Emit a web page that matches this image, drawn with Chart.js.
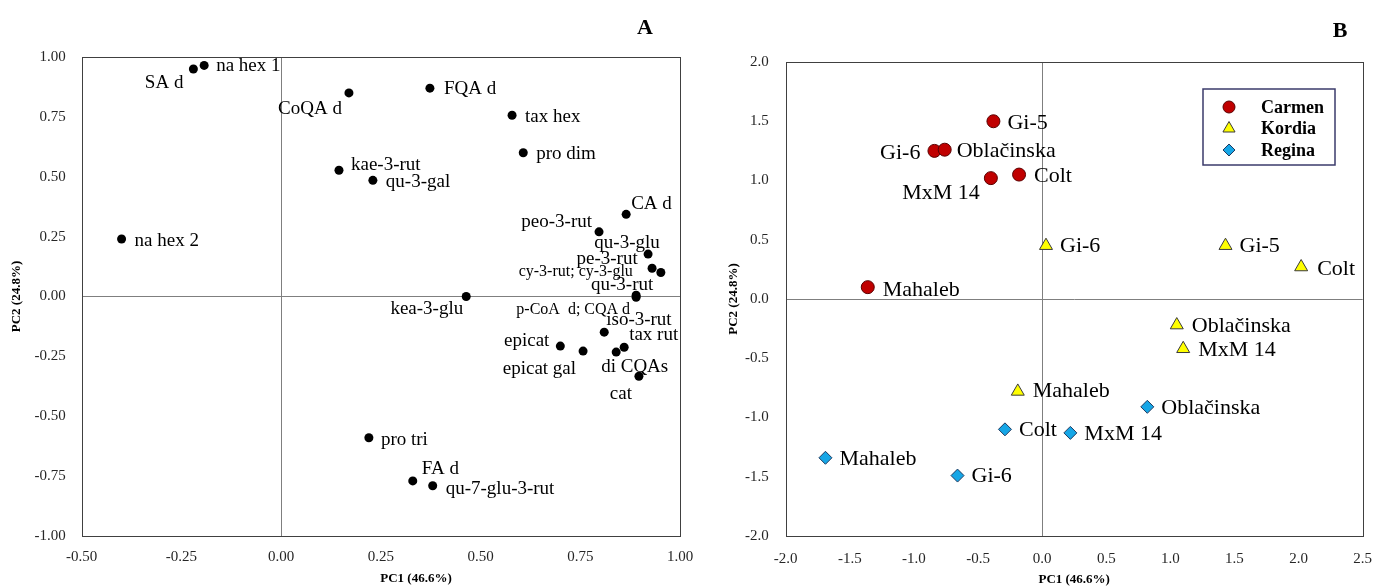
<!DOCTYPE html>
<html>
<head>
<meta charset="utf-8">
<script src="https://cdn.jsdelivr.net/npm/chart.js@4.4.1/dist/chart.umd.min.js"></script>
<style>
  body { margin: 0; background: #fff; width: 1375px; height: 587px; position: relative; overflow: hidden; }
  #chartA { position: absolute; left: 0; top: 0; }
  #chartB { position: absolute; left: 700px; top: 0; }
</style>
</head>
<body>
<canvas id="chartA" width="695" height="587"></canvas>
<canvas id="chartB" width="675" height="587"></canvas>
<script>
// ---- panel A: loadings ----
var compounds = ['SA d', 'na hex 1', 'CoQA d', 'FQA d', 'tax hex', 'pro dim', 'kae-3-rut', 'qu-3-gal',
  'na hex 2', 'CA d', 'peo-3-rut', 'qu-3-glu', 'pe-3-rut', 'cy-3-rut; cy-3-glu', 'qu-3-rut',
  'p-CoA  d; CQA d', 'kea-3-glu', 'iso-3-rut', 'tax rut', 'epicat', 'epicat gal', 'di CQAs', 'cat',
  'pro tri', 'FA d', 'qu-7-glu-3-rut'];
var loadPC1 = [-0.22, -0.193, 0.17, 0.373, 0.579, 0.607, 0.145, 0.23,
  -0.40, 0.865, 0.797, 0.92, 0.93, 0.952, 0.89,
  0.89, 0.464, 0.81, 0.86, 0.70, 0.757, 0.84, 0.897,
  0.22, 0.33, 0.38];
var loadPC2 = [0.95, 0.965, 0.85, 0.87, 0.757, 0.60, 0.527, 0.485,
  0.24, 0.343, 0.27, 0.177, 0.118, 0.10, 0.005,
  -0.003, 0.0, -0.149, -0.212, -0.207, -0.228, -0.232, -0.333,
  -0.59, -0.77, -0.79];
var ticksA_x = [-0.5, -0.25, 0, 0.25, 0.5, 0.75, 1.0];
var ticksA_y = [-1.0, -0.75, -0.5, -0.25, 0, 0.25, 0.5, 0.75, 1.0];

// where each name sits relative to its dot: [dx, dy, align, small]
var placeA = [[-10, 14, 'right'], [12, 1, 'left'], [-7, 16, 'right'], [14, 1, 'left'], [13, 2, 'left'],
  [13, 1, 'left'], [12, -5, 'left'], [13, 2, 'left'], [13, 2, 'left'], [5, -10, 'left'],
  [-7, -10, 'right'], [-21, -11, 'center'], [-45, -9, 'center'], [-28, -1, 'right', 1], [-14, -10, 'center'],
  [-6, 13, 'right', 1], [-3, 13, 'right'], [2, -12, 'left'], [5, -12, 'left'], [-11, -5, 'right'],
  [-7, 18, 'right'], [-15, 15, 'left'], [-7, 18, 'right'], [12, 2, 'left'], [9, -12, 'left'], [13, 3, 'left']];

// ---- panel B: scores ----
var carmenNames = ['Gi-5', 'Gi-6', 'Oblačinska', 'MxM 14', 'Colt', 'Mahaleb'];
var carmenPC1 = [-0.38, -0.84, -0.76, -0.40, -0.18, -1.36];
var carmenPC2 = [1.50, 1.25, 1.26, 1.02, 1.05, 0.10];
var kordiaNames = ['Gi-6', 'Gi-5', 'Colt', 'Oblačinska', 'MxM 14', 'Mahaleb'];
var kordiaPC1 = [0.03, 1.43, 2.02, 1.05, 1.10, -0.19];
var kordiaPC2 = [0.45, 0.45, 0.27, -0.22, -0.42, -0.78];
var reginaNames = ['Oblačinska', 'Colt', 'MxM 14', 'Mahaleb', 'Gi-6'];
var reginaPC1 = [0.82, -0.29, 0.22, -1.69, -0.66];
var reginaPC2 = [-0.91, -1.10, -1.13, -1.34, -1.49];
var ticksB_x = [-2.0, -1.5, -1.0, -0.5, 0, 0.5, 1.0, 1.5, 2.0, 2.5];
var ticksB_y = [-2.0, -1.5, -1.0, -0.5, 0, 0.5, 1.0, 1.5, 2.0];

var placeCarmen = [[14, 2, 'left'], [-14, 2, 'right'], [12, 2, 'left'], [-11, 15, 'right'], [15, 2, 'left'], [15, 3, 'left']];
var placeKordia = [[14, 1, 'left'], [14, 1, 'left'], [16, 2, 'left'], [15, 1, 'left'], [15, 1, 'left'], [15, 0, 'left']];
var placeRegina = [[14, 1, 'left'], [14, 1, 'left'], [14, 1, 'left'], [14, 1, 'left'], [14, 1, 'left']];

var SERIF = '"Liberation Serif", "Times New Roman", serif';

function pairs(xs, ys) {
  return xs.map(function (x, i) { return { x: x, y: ys[i] }; });
}

var pointNames = {
  id: 'pointNames',
  afterDatasetsDraw: function (chart, args, opts) {
    var ctx = chart.ctx;
    chart.data.datasets.forEach(function (ds, i) {
      var meta = chart.getDatasetMeta(i);
      meta.data.forEach(function (pt, j) {
        var p = ds.place[j];
        ctx.save();
        ctx.font = (p[3] ? opts.smallSize : opts.size) + 'px ' + SERIF;
        ctx.textAlign = p[2];
        ctx.textBaseline = 'middle';
        ctx.fillStyle = '#000';
        ctx.fillText(ds.names[j], pt.x + p[0], pt.y + p[1]);
        ctx.restore();
      });
    });
  }
};

var frame = {
  id: 'frame',
  beforeDatasetsDraw: function (chart, args, opts) {
    var a = chart.chartArea, ctx = chart.ctx;
    ctx.save();
    ctx.strokeStyle = opts.color;
    ctx.lineWidth = 1;
    ctx.strokeRect(Math.round(a.left) + 0.5, Math.round(a.top) + 0.5,
      Math.round(a.right - a.left), Math.round(a.bottom - a.top));
    ctx.restore();
  },
  afterDraw: function (chart, args, opts) {
    var ctx = chart.ctx;
    ctx.save();
    ctx.font = 'bold 22px ' + SERIF;
    ctx.fillStyle = '#000';
    ctx.textAlign = 'center';
    ctx.textBaseline = 'middle';
    ctx.fillText(opts.letter, opts.lx, opts.ly);
    if (opts.xTitle) {
      // this panel's x title sits off-centre in the original
      ctx.font = 'bold 13px ' + SERIF;
      ctx.fillText(opts.xTitle, opts.tx, opts.ty);
    }
    ctx.restore();
  }
};

var boxLegend = {
  id: 'boxLegend',
  afterDraw: function (chart, args, opts) {
    if (!opts.show) return;
    var ctx = chart.ctx;
    ctx.save();
    ctx.strokeStyle = '#3b3b6b';
    ctx.lineWidth = 1.5;
    ctx.strokeRect(opts.x, opts.y, opts.w, opts.h);
    chart.data.datasets.forEach(function (ds, i) {
      var cy = opts.y + 18 + i * 21.5;
      ctx.fillStyle = ds.backgroundColor;
      ctx.strokeStyle = ds.borderColor;
      ctx.lineWidth = 1;
      Chart.helpers.drawPoint(ctx, { pointStyle: ds.pointStyle, radius: ds.pointRadius - 0.5, rotation: 0, borderWidth: 1 },
        opts.x + 26, cy);
      ctx.fillStyle = '#000';
      ctx.font = 'bold 18px ' + SERIF;
      ctx.textAlign = 'left';
      ctx.textBaseline = 'middle';
      ctx.fillText(ds.label, opts.x + 58, cy + 1);
    });
    ctx.restore();
  }
};

function axis(ticksArr, decimals, fitSize, titleText, titlePad, tickPad, horizontal) {
  return {
    type: 'linear',
    min: ticksArr[0],
    max: ticksArr[ticksArr.length - 1],
    afterBuildTicks: function (s) { s.ticks = ticksArr.map(function (v) { return { value: v }; }); },
    afterFit: function (s) {
      if (horizontal) { s.height = fitSize; s.paddingLeft = 0; s.paddingRight = 0; }
      else { s.width = fitSize; }
    },
    grid: {
      drawTicks: false,
      color: function (c) { return c.tick && c.tick.value === 0 ? '#7f7f7f' : 'rgba(0,0,0,0)'; },
      lineWidth: 1
    },
    border: { display: false },
    ticks: {
      padding: tickPad,
      color: '#262626',
      font: { family: SERIF, size: 15 },
      callback: function (v) { return Number(v).toFixed(decimals); }
    },
    title: {
      display: titleText !== '',
      text: titleText,
      color: '#000',
      padding: titlePad,
      font: { family: SERIF, size: 13, weight: 'bold' }
    }
  };
}

new Chart(document.getElementById('chartA').getContext('2d'), {
  type: 'scatter',
  data: {
    datasets: [{
      label: 'loadings',
      data: pairs(loadPC1, loadPC2),
      names: compounds,
      place: placeA,
      backgroundColor: '#000',
      borderColor: '#000',
      pointRadius: 4.5,
      pointBorderWidth: 0
    }]
  },
  options: {
    responsive: false,
    animation: false,
    layout: { padding: { left: 0, right: 15, top: 57, bottom: 0 } },
    scales: {
      x: axis(ticksA_x, 2, 51, '', { top: 0, bottom: 1 }, 12, true),
      y: axis(ticksA_y, 2, 81.7, 'PC2 (24.8%)', { top: 9, bottom: 0 }, 16, false)
    },
    plugins: {
      legend: { display: false },
      tooltip: { enabled: false },
      pointNames: { size: 19, smallSize: 16 },
      frame: { color: '#404040', letter: 'A', lx: 645, ly: 28, xTitle: 'PC1 (46.6%)', tx: 416, ty: 579 },
      boxLegend: { show: false }
    }
  },
  plugins: [pointNames, frame, boxLegend]
});

new Chart(document.getElementById('chartB').getContext('2d'), {
  type: 'scatter',
  data: {
    datasets: [{
      label: 'Carmen',
      data: pairs(carmenPC1, carmenPC2),
      names: carmenNames,
      place: placeCarmen,
      pointStyle: 'circle',
      backgroundColor: '#c00000',
      borderColor: '#5a0000',
      pointRadius: 6.5,
      pointBorderWidth: 1
    }, {
      label: 'Kordia',
      data: pairs(kordiaPC1, kordiaPC2),
      names: kordiaNames,
      place: placeKordia,
      pointStyle: 'triangle',
      backgroundColor: '#ffff00',
      borderColor: '#3a3a3a',
      pointRadius: 7.5,
      pointBorderWidth: 1
    }, {
      label: 'Regina',
      data: pairs(reginaPC1, reginaPC2),
      names: reginaNames,
      place: placeRegina,
      pointStyle: 'rectRot',
      backgroundColor: '#16a6e6',
      borderColor: '#1f3a60',
      pointRadius: 6.5,
      pointBorderWidth: 1
    }]
  },
  options: {
    responsive: false,
    animation: false,
    layout: { padding: { left: 0, right: 12.3, top: 62, bottom: 0 } },
    scales: {
      x: axis(ticksB_x, 1, 51, 'PC1 (46.6%)', { top: 0, bottom: 0 }, 14, true),
      y: axis(ticksB_y, 1, 85.7, 'PC2 (24.8%)', { top: 26, bottom: 0 }, 17, false)
    },
    plugins: {
      legend: { display: false },
      tooltip: { enabled: false },
      pointNames: { size: 22, smallSize: 22 },
      frame: { color: '#404040', letter: 'B', lx: 640, ly: 31 },
      boxLegend: { show: true, x: 503, y: 89, w: 132, h: 76 }
    }
  },
  plugins: [pointNames, frame, boxLegend]
});
</script>
</body>
</html>
